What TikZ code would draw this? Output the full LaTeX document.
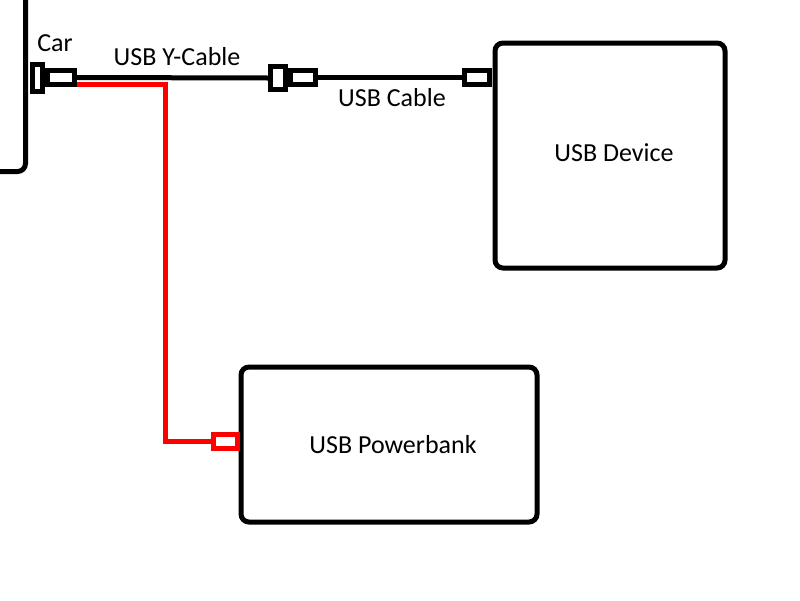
\documentclass[tikz,border=0pt]{standalone}
\usepackage{fontspec}
\setmainfont{Carlito}
\begin{document}
\begin{tikzpicture}[x=1pt,y=-1pt,
    box/.style={draw,line width=5pt,rounded corners=8pt,inner sep=0pt},
    plug/.style={draw,fill=white,line width=5pt,inner sep=0pt},
    cable/.style={line width=5pt},
    redcable/.style={line width=5pt,red},
    lbl/.style={font=\fontsize{26}{30}\selectfont,inner sep=0pt}]
    \useasboundingbox (0,0) rectangle (800,600);
    \clip (0,0) rectangle (800,600);

    % boxes
    \node[box,minimum width=130pt,minimum height=224pt] (car) at (-39.5,59.5) {};
    \node[box,minimum width=230pt,minimum height=225pt] (device) at (610,155.5) {};
    \node[box,minimum width=296pt,minimum height=155pt] (bank) at (389,444.5) {};

    \node[lbl] (carlbl) at (55,43) {Car};
    \node[lbl] (devlbl) at (614,153) {USB Device};
    \node[lbl] (banklbl) at (393,445) {USB Powerbank};
    \node[lbl] (ylbl) at (177,57) {USB Y-Cable};
    \node[lbl] (cablbl) at (392,98) {USB Cable};

    % plugs
    \node[plug,minimum width=10pt,minimum height=27pt] (carsock) at (37,78) {};
    \node[plug,minimum width=27pt,minimum height=14pt] (carplug) at (61,77.5) {};
    \node[plug,minimum width=15pt,minimum height=23pt] (ysock) at (278,78) {};
    \node[plug,minimum width=25pt,minimum height=14pt] (yplug) at (303,77.5) {};
    \node[plug,minimum width=25pt,minimum height=14pt] (devplug) at (477,77.5) {};
    \node[plug,draw=red,minimum width=24pt,minimum height=14pt] (bankplug) at (225.5,441.5) {};

    % cables
    \coordinate (split) at (165,84.5);
    \draw[redcable] (carplug.east |- split) -- (split) |- (bankplug.west);
    \draw[cable] (carplug.east) -- (ysock.west);
    \draw[cable] (yplug.east) -- (devplug.west);
\end{tikzpicture}
\end{document}
